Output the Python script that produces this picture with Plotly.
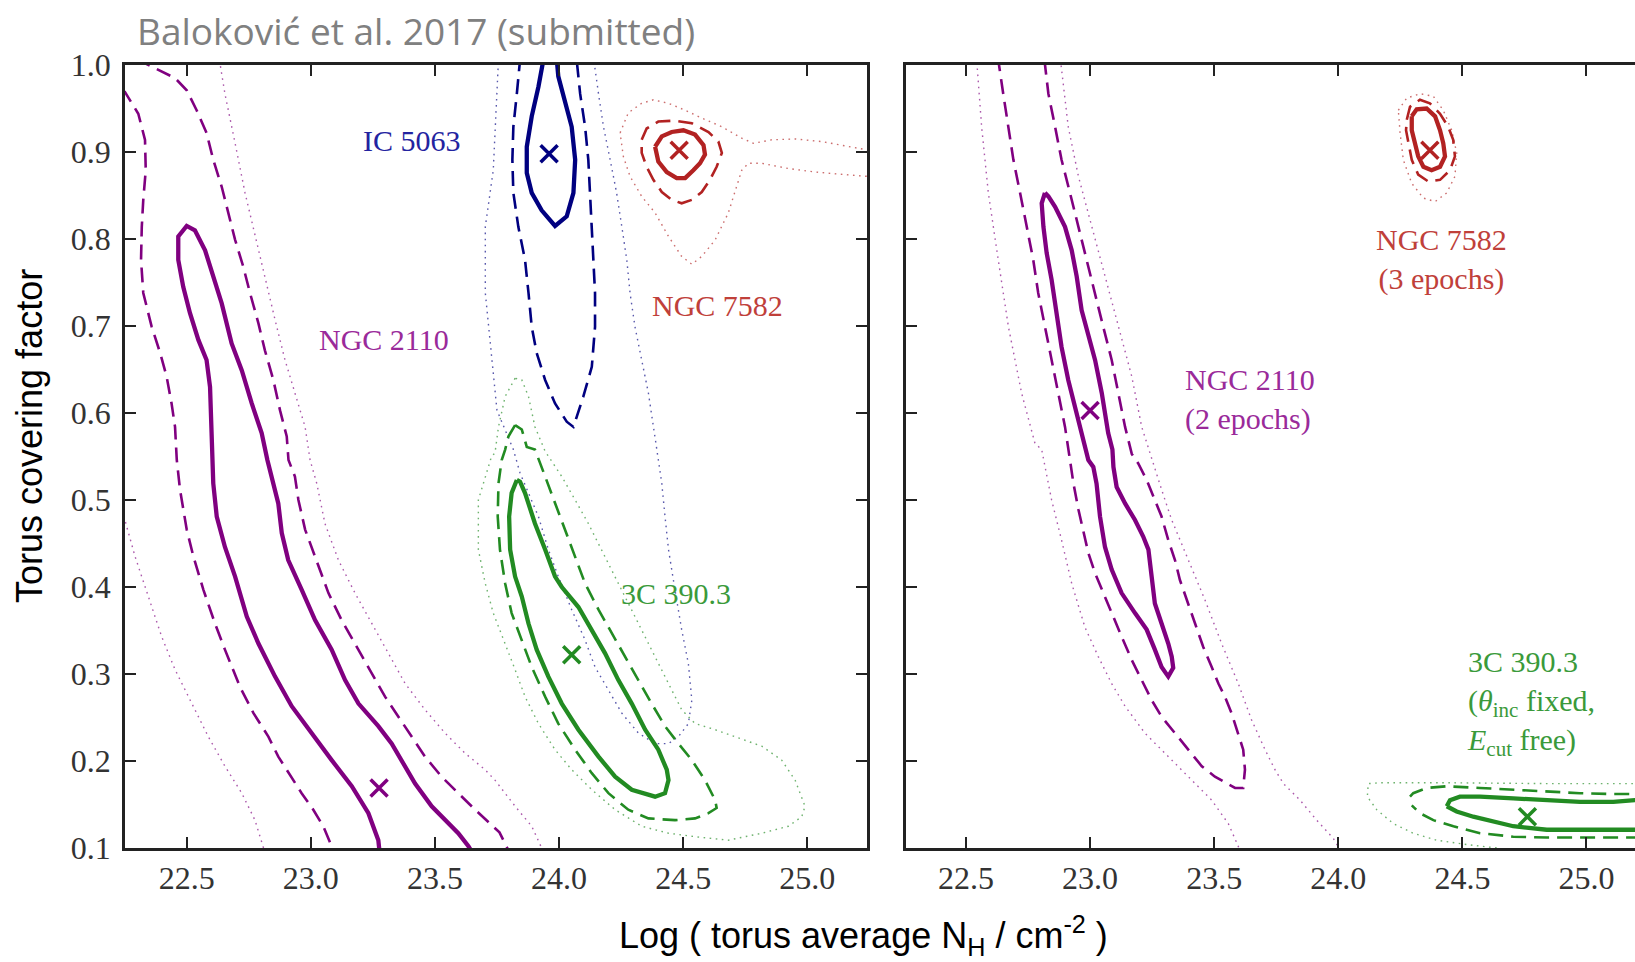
import plotly.graph_objects as go

# ---------------- data ----------------
X_TICKS = [22.5, 23.0, 23.5, 24.0, 24.5, 25.0]
Y_TICKS = [0.1, 0.2, 0.3, 0.4, 0.5, 0.6, 0.7, 0.8, 0.9, 1.0]

# ---- left panel ----
L_2110_SOLID = [(23.276, 0.098), (23.272, 0.109), (23.232, 0.140), (23.165, 0.171), (23.084, 0.201),
                (23.004, 0.232), (22.923, 0.263), (22.856, 0.297), (22.789, 0.335), (22.742, 0.366),
                (22.695, 0.412), (22.654, 0.446), (22.621, 0.481), (22.607, 0.519), (22.603, 0.558),
                (22.601, 0.600), (22.594, 0.630), (22.580, 0.661), (22.547, 0.684), (22.513, 0.715),
                (22.486, 0.745), (22.466, 0.776), (22.466, 0.803), (22.500, 0.815), (22.533, 0.810),
                (22.574, 0.787), (22.607, 0.757), (22.641, 0.726), (22.681, 0.680), (22.722, 0.649),
                (22.762, 0.611), (22.802, 0.577), (22.825, 0.546), (22.842, 0.527), (22.869, 0.496),
                (22.883, 0.462), (22.909, 0.431), (22.963, 0.397), (23.017, 0.362), (23.084, 0.328),
                (23.138, 0.293), (23.192, 0.266), (23.272, 0.240), (23.326, 0.220), (23.366, 0.201),
                (23.420, 0.174), (23.487, 0.148), (23.541, 0.132), (23.594, 0.117), (23.635, 0.102),
                (23.648, 0.096)]
L_2110_DASH = [(22.238, 0.971), (22.251, 0.969), (22.305, 0.944), (22.332, 0.914), (22.335, 0.879),
               (22.325, 0.845), (22.319, 0.814), (22.316, 0.776), (22.325, 0.738), (22.359, 0.699),
               (22.393, 0.669), (22.419, 0.642), (22.439, 0.611), (22.453, 0.584), (22.460, 0.546),
               (22.473, 0.512), (22.500, 0.466), (22.527, 0.435), (22.567, 0.397), (22.614, 0.358),
               (22.654, 0.328), (22.715, 0.285), (22.769, 0.255), (22.829, 0.228), (22.869, 0.205),
               (22.910, 0.186), (22.963, 0.163), (23.010, 0.144), (23.050, 0.125), (23.084, 0.102),
               (23.098, 0.086), (23.80, 0.086), (23.80, 0.095), (23.76, 0.118), (23.722, 0.128),
               (23.662, 0.144), (23.594, 0.163), (23.527, 0.182), (23.460, 0.205), (23.406, 0.228),
               (23.353, 0.251), (23.299, 0.274), (23.245, 0.301), (23.178, 0.335), (23.124, 0.362),
               (23.071, 0.393), (23.017, 0.435), (22.977, 0.466), (22.950, 0.500), (22.936, 0.527),
               (22.910, 0.546), (22.903, 0.573), (22.876, 0.603), (22.849, 0.638), (22.815, 0.672),
               (22.789, 0.703), (22.755, 0.738), (22.728, 0.768), (22.695, 0.799), (22.668, 0.830),
               (22.641, 0.860), (22.607, 0.891), (22.580, 0.922), (22.540, 0.948), (22.500, 0.971),
               (22.453, 0.985), (22.332, 1.002), (22.292, 1.010)]
L_2110_DOT = [(22.238, 0.488), (22.251, 0.477), (22.292, 0.435), (22.345, 0.389), (22.399, 0.343),
              (22.453, 0.305), (22.520, 0.266), (22.587, 0.228), (22.654, 0.194), (22.722, 0.163),
              (22.775, 0.132), (22.802, 0.107), (22.816, 0.094), (23.944, 0.090), (23.930, 0.100),
              (23.890, 0.125), (23.823, 0.148), (23.742, 0.178), (23.702, 0.190), (23.621, 0.209),
              (23.541, 0.232), (23.460, 0.259), (23.380, 0.289), (23.312, 0.324), (23.245, 0.358),
              (23.178, 0.393), (23.111, 0.431), (23.057, 0.473), (23.024, 0.519), (22.997, 0.546),
              (22.977, 0.584), (22.936, 0.623), (22.896, 0.661), (22.856, 0.707), (22.815, 0.757),
              (22.775, 0.803), (22.735, 0.853), (22.695, 0.910), (22.654, 0.967), (22.634, 1.002),
              (22.634, 1.010)]
L_2110_BEST = (23.275, 0.169)

L_5063_SOLID = [(23.937, 1.010), (23.937, 1.006), (23.917, 0.975), (23.890, 0.941), (23.870, 0.906),
                (23.870, 0.876), (23.890, 0.853), (23.930, 0.833), (23.984, 0.815), (24.031, 0.826),
                (24.058, 0.853), (24.065, 0.891), (24.051, 0.929), (24.024, 0.960), (23.997, 0.987),
                (23.991, 1.006), (23.991, 1.010)]
L_5063_DASH = [(23.843, 1.010), (23.843, 1.006), (23.830, 0.967), (23.816, 0.929), (23.812, 0.891),
               (23.816, 0.853), (23.836, 0.814), (23.863, 0.776), (23.877, 0.738), (23.890, 0.699),
               (23.910, 0.669), (23.944, 0.638), (23.984, 0.611), (24.031, 0.590), (24.058, 0.584),
               (24.098, 0.619), (24.132, 0.653), (24.145, 0.699), (24.145, 0.738), (24.138, 0.776),
               (24.132, 0.814), (24.125, 0.853), (24.118, 0.891), (24.105, 0.929), (24.085, 0.967),
               (24.071, 1.006), (24.071, 1.010)]
L_5063_DOT = [(23.755, 1.010), (23.755, 1.000), (23.735, 0.879), (23.703, 0.814), (23.703, 0.738),
              (23.730, 0.661), (23.750, 0.603), (23.816, 0.558), (23.843, 0.531), (23.877, 0.508),
              (23.917, 0.481), (23.957, 0.443), (23.997, 0.412), (24.051, 0.374), (24.105, 0.339),
              (24.145, 0.308), (24.199, 0.282), (24.253, 0.255), (24.320, 0.232), (24.387, 0.220),
              (24.441, 0.220), (24.481, 0.228), (24.521, 0.243), (24.535, 0.270), (24.521, 0.312),
              (24.494, 0.351), (24.467, 0.397), (24.441, 0.443), (24.427, 0.481), (24.414, 0.519),
              (24.394, 0.558), (24.380, 0.584), (24.360, 0.623), (24.333, 0.661), (24.306, 0.699),
              (24.286, 0.738), (24.273, 0.776), (24.253, 0.814), (24.232, 0.853), (24.206, 0.891),
              (24.179, 0.929), (24.159, 0.967), (24.138, 1.006), (24.138, 1.010)]
L_5063_BEST = (23.960, 0.898)

L_7582_SOLID = [(24.387, 0.906), (24.414, 0.918), (24.454, 0.923), (24.501, 0.925), (24.548, 0.920),
                (24.582, 0.908), (24.588, 0.897), (24.568, 0.887), (24.541, 0.879), (24.508, 0.870),
                (24.474, 0.870), (24.434, 0.877), (24.400, 0.889), (24.387, 0.906)]
L_7582_DASH = [(24.333, 0.914), (24.353, 0.927), (24.400, 0.935), (24.467, 0.936), (24.535, 0.933),
               (24.602, 0.923), (24.642, 0.912), (24.656, 0.899), (24.635, 0.883), (24.608, 0.868),
               (24.575, 0.854), (24.535, 0.845), (24.494, 0.841), (24.454, 0.845), (24.414, 0.854),
               (24.380, 0.868), (24.353, 0.883), (24.333, 0.899), (24.333, 0.914)]
L_7582_DOT = [(24.246, 0.922), (24.279, 0.945), (24.333, 0.956), (24.380, 0.960), (24.441, 0.956),
              (24.508, 0.948), (24.575, 0.939), (24.656, 0.929), (24.736, 0.916), (24.783, 0.910),
              (24.857, 0.914), (24.951, 0.915), (25.058, 0.912), (25.166, 0.906), (25.233, 0.902),
              (25.287, 0.900), (25.287, 0.871), (25.233, 0.872), (25.152, 0.874), (25.031, 0.877),
              (24.924, 0.881), (24.817, 0.887), (24.763, 0.887), (24.736, 0.879), (24.709, 0.853),
              (24.682, 0.830), (24.629, 0.799), (24.575, 0.780), (24.535, 0.771), (24.494, 0.780),
              (24.441, 0.803), (24.387, 0.830), (24.333, 0.849), (24.286, 0.872), (24.259, 0.895),
              (24.246, 0.922)]
L_7582_BEST = (24.484, 0.902)

L_3C_SOLID = [(23.830, 0.523), (23.809, 0.508), (23.799, 0.481), (23.803, 0.443), (23.823, 0.412),
              (23.850, 0.389), (23.877, 0.358), (23.910, 0.328), (23.957, 0.297), (24.011, 0.266),
              (24.078, 0.236), (24.159, 0.205), (24.226, 0.182), (24.293, 0.167), (24.387, 0.159),
              (24.427, 0.163), (24.441, 0.178), (24.434, 0.190), (24.400, 0.213), (24.347, 0.236),
              (24.293, 0.266), (24.239, 0.293), (24.185, 0.324), (24.132, 0.351), (24.078, 0.377),
              (24.011, 0.400), (23.984, 0.412), (23.944, 0.443), (23.903, 0.473), (23.863, 0.508),
              (23.843, 0.521), (23.830, 0.523)]
L_3C_DASH = [(23.823, 0.586), (23.796, 0.573), (23.783, 0.558), (23.769, 0.546), (23.756, 0.519),
             (23.753, 0.481), (23.762, 0.443), (23.783, 0.404), (23.809, 0.370), (23.843, 0.343),
             (23.890, 0.308), (23.944, 0.274), (23.997, 0.243), (24.065, 0.213), (24.132, 0.186),
             (24.199, 0.163), (24.279, 0.144), (24.360, 0.134), (24.467, 0.132), (24.548, 0.134),
             (24.602, 0.140), (24.635, 0.146), (24.629, 0.155), (24.588, 0.178), (24.535, 0.201),
             (24.481, 0.220), (24.427, 0.240), (24.373, 0.266), (24.320, 0.293), (24.266, 0.320),
             (24.212, 0.347), (24.159, 0.374), (24.105, 0.404), (24.065, 0.435), (24.024, 0.466),
             (23.984, 0.496), (23.944, 0.527), (23.903, 0.558), (23.870, 0.561), (23.850, 0.581),
             (23.823, 0.586)]
L_3C_DOT = [(23.823, 0.640), (23.783, 0.619), (23.756, 0.584), (23.742, 0.554), (23.728, 0.550),
            (23.675, 0.500), (23.675, 0.443), (23.702, 0.405), (23.735, 0.370), (23.783, 0.335),
            (23.823, 0.305), (23.863, 0.274), (23.917, 0.243), (23.984, 0.213), (24.051, 0.190),
            (24.132, 0.167), (24.226, 0.144), (24.333, 0.125), (24.441, 0.117), (24.548, 0.113),
            (24.682, 0.109), (24.817, 0.117), (24.924, 0.125), (24.978, 0.136), (24.991, 0.148),
            (24.951, 0.178), (24.897, 0.201), (24.817, 0.217), (24.709, 0.228), (24.629, 0.236),
            (24.548, 0.243), (24.494, 0.259), (24.441, 0.289), (24.387, 0.320), (24.333, 0.351),
            (24.279, 0.381), (24.226, 0.412), (24.172, 0.443), (24.118, 0.473), (24.065, 0.500),
            (24.011, 0.527), (23.944, 0.556), (23.903, 0.584), (23.877, 0.619), (23.850, 0.638),
            (23.823, 0.640)]
L_3C_BEST = (24.051, 0.322)

# ---- right panel ----
R_2110_SOLID = [(22.818, 0.853), (22.805, 0.841), (22.812, 0.814), (22.825, 0.784), (22.845, 0.753),
                (22.865, 0.715), (22.885, 0.676), (22.912, 0.638), (22.939, 0.607), (22.966, 0.581),
                (22.993, 0.546), (23.013, 0.538), (23.026, 0.519), (23.040, 0.481), (23.060, 0.446),
                (23.087, 0.420), (23.127, 0.393), (23.181, 0.370), (23.228, 0.351), (23.261, 0.328),
                (23.288, 0.308), (23.315, 0.297), (23.335, 0.307), (23.329, 0.320), (23.315, 0.335),
                (23.288, 0.358), (23.261, 0.381), (23.248, 0.412), (23.235, 0.443), (23.214, 0.458),
                (23.181, 0.477), (23.141, 0.496), (23.107, 0.515), (23.094, 0.538), (23.090, 0.558),
                (23.073, 0.577), (23.047, 0.623), (23.020, 0.661), (22.993, 0.688), (22.966, 0.718),
                (22.946, 0.757), (22.926, 0.787), (22.899, 0.814), (22.859, 0.837), (22.832, 0.849),
                (22.818, 0.853)]
R_2110_DASH = [(22.630, 1.010), (22.630, 1.006), (22.650, 0.967), (22.671, 0.929), (22.691, 0.891),
               (22.718, 0.853), (22.744, 0.814), (22.771, 0.776), (22.791, 0.738), (22.818, 0.699),
               (22.845, 0.661), (22.872, 0.623), (22.899, 0.584), (22.919, 0.546), (22.933, 0.519),
               (22.953, 0.489), (22.973, 0.462), (22.993, 0.439), (23.020, 0.416), (23.053, 0.393),
               (23.087, 0.370), (23.127, 0.343), (23.168, 0.316), (23.208, 0.293), (23.248, 0.270),
               (23.288, 0.251), (23.342, 0.232), (23.396, 0.213), (23.450, 0.194), (23.503, 0.182),
               (23.543, 0.176), (23.584, 0.169), (23.617, 0.169), (23.624, 0.190), (23.617, 0.213),
               (23.597, 0.232), (23.570, 0.255), (23.543, 0.274), (23.517, 0.289), (23.490, 0.308),
               (23.456, 0.331), (23.423, 0.358), (23.389, 0.385), (23.362, 0.408), (23.342, 0.431),
               (23.315, 0.454), (23.288, 0.481), (23.261, 0.500), (23.228, 0.523), (23.194, 0.542),
               (23.168, 0.553), (23.141, 0.584), (23.114, 0.623), (23.087, 0.661), (23.053, 0.699),
               (23.020, 0.738), (22.986, 0.776), (22.953, 0.814), (22.919, 0.853), (22.885, 0.891),
               (22.859, 0.929), (22.832, 0.967), (22.816, 1.006), (22.816, 1.010)]
R_2110_DOT = [(22.543, 1.010), (22.543, 1.006), (22.563, 0.929), (22.590, 0.853), (22.630, 0.776),
              (22.671, 0.699), (22.724, 0.623), (22.778, 0.565), (22.805, 0.558), (22.845, 0.500),
              (22.885, 0.454), (22.926, 0.404), (22.979, 0.354), (23.033, 0.320), (23.087, 0.289),
              (23.141, 0.263), (23.221, 0.232), (23.315, 0.205), (23.409, 0.178), (23.490, 0.155),
              (23.557, 0.128), (23.597, 0.102), (23.611, 0.090), (24.007, 0.090), (24.007, 0.098),
              (23.980, 0.111), (23.913, 0.132), (23.846, 0.155), (23.779, 0.174), (23.745, 0.190),
              (23.705, 0.213), (23.651, 0.247), (23.597, 0.289), (23.530, 0.335), (23.463, 0.385),
              (23.396, 0.431), (23.329, 0.477), (23.288, 0.512), (23.235, 0.558), (23.208, 0.584),
              (23.168, 0.642), (23.114, 0.699), (23.060, 0.757), (23.006, 0.814), (22.953, 0.872),
              (22.912, 0.929), (22.879, 1.006), (22.879, 1.010)]
R_2110_BEST = (23.000, 0.603)

R_7582_SOLID = [(24.296, 0.941), (24.316, 0.949), (24.356, 0.950), (24.390, 0.941), (24.410, 0.925),
                (24.423, 0.910), (24.430, 0.895), (24.410, 0.883), (24.376, 0.879), (24.343, 0.883),
                (24.322, 0.895), (24.309, 0.910), (24.296, 0.925), (24.296, 0.941)]
R_7582_DASH = [(24.276, 0.937), (24.289, 0.952), (24.329, 0.960), (24.369, 0.956), (24.410, 0.944),
               (24.443, 0.929), (24.463, 0.914), (24.470, 0.895), (24.450, 0.879), (24.410, 0.868),
               (24.363, 0.866), (24.322, 0.874), (24.296, 0.891), (24.282, 0.910), (24.273, 0.925),
               (24.276, 0.937)]
R_7582_DOT = [(24.242, 0.948), (24.276, 0.962), (24.329, 0.967), (24.383, 0.964), (24.423, 0.948),
              (24.457, 0.925), (24.477, 0.899), (24.470, 0.872), (24.437, 0.853), (24.390, 0.843),
              (24.343, 0.847), (24.296, 0.864), (24.262, 0.891), (24.249, 0.922), (24.242, 0.948)]
R_7582_BEST = (24.369, 0.902)

R_3C_SOLID = [(24.437, 0.148), (24.450, 0.155), (24.490, 0.159), (24.571, 0.159), (24.705, 0.157),
              (24.840, 0.155), (24.974, 0.153), (25.108, 0.153), (25.195, 0.155), (25.310, 0.155),
              (25.310, 0.121), (25.195, 0.121), (25.108, 0.121), (24.974, 0.121), (24.840, 0.121),
              (24.705, 0.125), (24.625, 0.130), (24.544, 0.136), (24.477, 0.142), (24.437, 0.148)]
R_3C_DASH = [(24.289, 0.159), (24.302, 0.163), (24.356, 0.169), (24.437, 0.171), (24.571, 0.169),
             (24.705, 0.167), (24.840, 0.165), (24.974, 0.163), (25.108, 0.162), (25.310, 0.162),
             (25.310, 0.112), (25.108, 0.112), (24.974, 0.112), (24.840, 0.112), (24.705, 0.113),
             (24.571, 0.117), (24.464, 0.125), (24.383, 0.132), (24.329, 0.140), (24.296, 0.149)]
R_3C_DOT = [(25.310, 0.174), (25.195, 0.174), (24.840, 0.174), (24.437, 0.175), (24.168, 0.175),
            (24.121, 0.174), (24.117, 0.159), (24.155, 0.144), (24.222, 0.128), (24.302, 0.117),
            (24.396, 0.109), (24.517, 0.104), (24.638, 0.100), (24.705, 0.092)]
R_3C_BEST = (24.762, 0.136)

# ---------------- styling ----------------
PURPLE = "#800080"
BLUE = "#000080"
RED = "#B22222"
GREEN = "#228B22"

W, H = 1635, 962
SERIF = "Liberation Serif"

fig = go.Figure()


def add_contour(pts, color, style, xa, ya):
    xs = [p[0] for p in pts]
    ys = [p[1] for p in pts]
    if style == "solid":
        line = dict(color=color, width=4.3)
        op = 1.0
    elif style == "dash":
        line = dict(color=color, width=2.6, dash="15px,8px")
        op = 1.0
    else:
        line = dict(color=color, width=1.4, dash="1.6px,4.5px")
        op = 0.65
    fig.add_trace(go.Scatter(x=xs, y=ys, mode="lines", line=line, opacity=op,
                             xaxis=xa, yaxis=ya, hoverinfo="skip", showlegend=False))


def add_best(pt, color, xa, ya):
    fig.add_trace(go.Scatter(x=[pt[0]], y=[pt[1]], mode="markers",
                             marker=dict(symbol="x-thin", size=17, color=color,
                                         line=dict(color=color, width=3.5)),
                             xaxis=xa, yaxis=ya, hoverinfo="skip", showlegend=False))


left_sets = [
    (L_2110_DOT, L_2110_DASH, L_2110_SOLID, L_2110_BEST, PURPLE),
    (L_5063_DOT, L_5063_DASH, L_5063_SOLID, L_5063_BEST, BLUE),
    (L_7582_DOT, L_7582_DASH, L_7582_SOLID, L_7582_BEST, RED),
    (L_3C_DOT, L_3C_DASH, L_3C_SOLID, L_3C_BEST, GREEN),
]
right_sets = [
    (R_2110_DOT, R_2110_DASH, R_2110_SOLID, R_2110_BEST, PURPLE),
    (R_7582_DOT, R_7582_DASH, R_7582_SOLID, R_7582_BEST, RED),
    (R_3C_DOT, R_3C_DASH, R_3C_SOLID, R_3C_BEST, GREEN),
]

for sets, xa, ya in [(left_sets, "x", "y"), (right_sets, "x2", "y2")]:
    for dot, dash, solid, best, col in sets:
        add_contour(dot, col, "dot", xa, ya)
    for dot, dash, solid, best, col in sets:
        add_contour(dash, col, "dash", xa, ya)
    for dot, dash, solid, best, col in sets:
        add_contour(solid, col, "solid", xa, ya)
    for dot, dash, solid, best, col in sets:
        add_best(best, col, xa, ya)

# axes geometry (pixels)
LX0, LX1 = 125, 867
RX0, RX1 = 906, 1635
TOP, BOT = 65, 848

axis_common = dict(showgrid=False, zeroline=False, showline=True, linecolor="#222",
                   linewidth=2.5, ticks="inside", ticklen=11, tickwidth=2.2, tickcolor="#222",
                   automargin=False,
                   tickfont=dict(family=SERIF, size=32, color="#333"))

fig.update_layout(
    width=W, height=H, margin=dict(l=0, r=0, t=0, b=0, autoexpand=False),
    paper_bgcolor="white", plot_bgcolor="white",
    xaxis=dict(domain=[LX0 / W, LX1 / W], range=[22.2514, 25.2407], tickvals=X_TICKS,
               tickformat=".1f", mirror="ticks", anchor="y", **axis_common),
    yaxis=dict(domain=[(H - BOT) / H, (H - TOP) / H], range=[0.1, 1.0], tickvals=Y_TICKS,
               tickformat=".1f", mirror="ticks", anchor="x", ticklabelstandoff=5, **axis_common),
    xaxis2=dict(domain=[RX0 / W, 1.0], range=[22.2583, 25.1955], tickvals=X_TICKS,
                tickformat=".1f", mirror="ticks", anchor="y2", **axis_common),
    yaxis2=dict(domain=[(H - BOT) / H, (H - TOP) / H], range=[0.1, 1.0], tickvals=Y_TICKS,
                showticklabels=False, mirror=False, anchor="x2", **axis_common),
)

ann = []
def label(text, x, y, color, xref, yref, xanchor="center"):
    ann.append(dict(text=text, x=x, y=y, xref=xref, yref=yref, showarrow=False,
                    xanchor=xanchor, yanchor="middle", align="left" if xanchor == "left" else "center",
                    font=dict(family=SERIF, size=30, color=color)))

label("IC 5063", 23.408, 0.913, "#2323a0", "x", "y")
label("NGC 2110", 23.294, 0.684, "#9a2a9a", "x", "y")
label("NGC 7582", 24.639, 0.724, "#c0403a", "x", "y")
label("3C 390.3", 24.471, 0.392, "#3a9a3a", "x", "y")
label("NGC 7582<br>(3 epochs)", 24.414, 0.776, "#c0403a", "x2", "y2")
label("NGC 2110<br>(2 epochs)", 23.374, 0.616, "#9a2a9a", "x2", "y2", xanchor="left")
label("3C 390.3<br>(<i>θ</i><sub>inc</sub> fixed,<br><i>E</i><sub>cut</sub> free)", 24.51, 0.2667,
      "#3a9a3a", "x2", "y2", xanchor="left")

# titles
ann.append(dict(text="Baloković et al. 2017 (submitted)", x=135 / W, y=1 - 30 / H,
                xref="paper", yref="paper", xanchor="left", yanchor="middle", showarrow=False,
                font=dict(family="Open Sans", size=37, color="#808080")))
ann.append(dict(text="Log ( torus average N<sub>H</sub> / cm<sup>-2</sup> )", x=863 / W, y=1 - 935 / H,
                xref="paper", yref="paper", xanchor="center", yanchor="middle", showarrow=False,
                font=dict(family="Liberation Sans", size=36, color="black")))
ann.append(dict(text="Torus covering factor", x=29 / W, y=1 - 436 / H, textangle=-90,
                xref="paper", yref="paper", xanchor="center", yanchor="middle", showarrow=False,
                font=dict(family="Liberation Sans", size=36, color="black")))
fig.update_layout(annotations=ann)

fig.write_html("out.html")
